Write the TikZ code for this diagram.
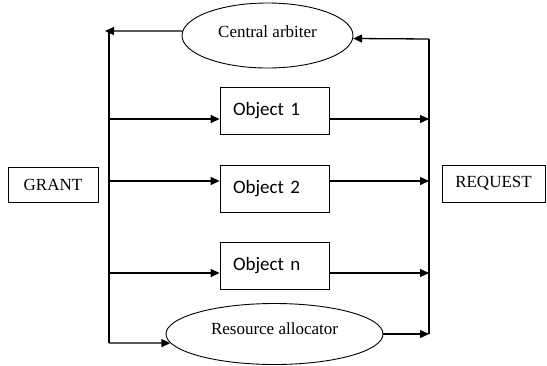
\documentclass[tikz,border=0pt]{standalone}
\usepackage{fontspec}
\setmainfont{Liberation Serif}
\newfontfamily\objfont{Carlito}
\usetikzlibrary{shapes.geometric,arrows.meta}

\begin{document}
\begin{tikzpicture}[x=1pt,y=-1pt,
  link/.style={line width=1.3pt,-{Triangle[length=9pt,width=8pt]}},
  rail/.style={line width=1.3pt},
  oval/.style={ellipse,draw,line width=0.9pt,inner sep=0pt,text height=12pt,font=\fontsize{17}{20}\selectfont},
  objbox/.style={draw,line width=0.8pt,minimum width=109pt,minimum height=47pt,
    text width=83pt,inner xsep=13pt,align=left,font=\objfont\fontsize{19}{22}\selectfont},
  tagbox/.style={draw,line width=0.8pt,inner sep=0pt,font=\fontsize{17}{20}\selectfont}]
  \useasboundingbox (0,0) rectangle (547,365);
  \node[oval,minimum width=171pt,minimum height=65pt,text depth=9pt] (arb) at (267.5,35.5) {Central arbiter};
  \node[oval,minimum width=217pt,minimum height=61pt,text depth=12pt] (alloc) at (274.5,334) {Resource allocator};
  \node[objbox] (o1) at (274.5,110.5) {Object 1};
  \node[objbox] (o2) at (274.5,188.5) {Object 2};
  \node[objbox] (on) at (274.5,266) {Object n};
  \node[tagbox,minimum width=90pt,minimum height=35pt] (grant) at (53,184.5) {GRANT};
  \node[tagbox,minimum width=103pt,minimum height=37pt] (request) at (493.5,183.5) {REQUEST};
  \coordinate (gtop) at (109,31);
  \coordinate (gbot) at (109,343);
  \coordinate (rtop) at (429,39);
  \coordinate (rbot) at (429,334);
  \draw[rail] (gtop) -- (gbot);
  \draw[rail] (rtop) -- (rbot);
  \draw[link] (arb.177) -- ([xshift=-4pt]gtop);
  \draw[link] (rtop) -- (arb.-2);
  \draw[link] (gbot) -- (alloc.185);
  \draw[link] (alloc.east) -- (rbot);
  \foreach \obj/\yy in {o1/119,o2/181,on/273}{
    \draw[link] (gtop |- 0,\yy) -- (\obj.west |- 0,\yy);
    \draw[link] (\obj.east |- 0,\yy) -- (rtop |- 0,\yy);
  }
\end{tikzpicture}
\end{document}
